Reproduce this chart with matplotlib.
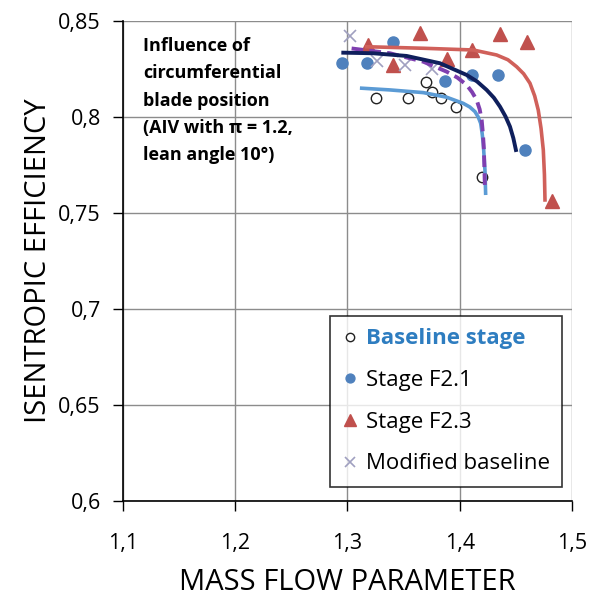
import matplotlib.pyplot as plt
from matplotlib.ticker import FuncFormatter

plt.rcParams['font.family'] = ['Open Sans', 'DejaVu Sans']

# measured points
base_x = [1.325, 1.354, 1.370, 1.375, 1.383, 1.397, 1.420]
base_y = [0.810, 0.810, 0.818, 0.813, 0.810, 0.805, 0.769]

f21_x = [1.295, 1.317, 1.341, 1.387, 1.411, 1.434, 1.458]
f21_y = [0.828, 0.828, 0.839, 0.819, 0.822, 0.822, 0.783]

f23_x = [1.318, 1.341, 1.365, 1.389, 1.411, 1.436, 1.460, 1.482]
f23_y = [0.8375, 0.827, 0.844, 0.830, 0.835, 0.843, 0.839, 0.756]

mod_x = [1.302, 1.326, 1.351, 1.375]
mod_y = [0.842, 0.829, 0.827, 0.825]

# fitted characteristics
base_fit_x = [1.3127, 1.3379, 1.3676, 1.3884, 1.4032, 1.4090, 1.4136, 1.4165,
              1.4187, 1.4200, 1.4210, 1.4225, 1.4231]
base_fit_y = [0.8150, 0.8141, 0.8127, 0.8103, 0.8071, 0.8052, 0.8028, 0.8000,
              0.7967, 0.7915, 0.7863, 0.7724, 0.7603]

f21_fit_x = [1.2963, 1.3230, 1.3527, 1.3824, 1.4062, 1.4155, 1.4240, 1.4305,
             1.4359, 1.4408, 1.4448, 1.4478, 1.4501]
f21_fit_y = [0.8335, 0.8332, 0.8318, 0.8280, 0.8219, 0.8185, 0.8141, 0.8100,
             0.8054, 0.8003, 0.7950, 0.7890, 0.7828]

f23_fit_x = [1.3171, 1.3676, 1.4121, 1.4329, 1.4430, 1.4507, 1.4570, 1.4626,
             1.4668, 1.4700, 1.4725, 1.4745, 1.4755, 1.4760]
f23_fit_y = [0.8366, 0.8358, 0.8349, 0.8323, 0.8298, 0.8262, 0.8225, 0.8176,
             0.8110, 0.8036, 0.7940, 0.7828, 0.7700, 0.7568]

mod_fit_x = [1.3037, 1.3379, 1.3676, 1.3884, 1.3980, 1.4062, 1.4110, 1.4151,
             1.4178, 1.4196, 1.4208, 1.4216, 1.4225]
mod_fit_y = [0.8357, 0.8332, 0.8288, 0.8236, 0.8205, 0.8167, 0.8130, 0.8089,
             0.8040, 0.7984, 0.7905, 0.7828, 0.7620]

x_ticks = [1.1, 1.2, 1.3, 1.4, 1.5]
y_ticks = [0.6, 0.65, 0.7, 0.75, 0.8, 0.85]

fig = plt.figure(figsize=(5.97, 6.0), dpi=100)
ax = fig.add_axes([0.206, 0.165, 0.752, 0.80])

ax.plot(base_x, base_y, 'o', ms=7.5, mfc='white', mec='#222222', mew=1.0,
        ls='none', label='Baseline stage', zorder=3)
ax.plot(f21_x, f21_y, 'o', ms=8, color='#4F81BD', ls='none',
        label='Stage F2.1', zorder=3)
ax.plot(f23_x, f23_y, '^', ms=10, color='#C0504D', ls='none',
        label='Stage F2.3', zorder=3)
ax.plot(mod_x, mod_y, 'x', ms=9, mew=1.2, color='#A0A0C0', ls='none',
        label='Modified baseline', zorder=3)

ax.plot(base_fit_x, base_fit_y, color='#5B9BD5', lw=2.6, zorder=4)
ax.plot(mod_fit_x, mod_fit_y, color='#7F3FB0', lw=2.8, ls=(0, (3, 1.6)), zorder=4)
ax.plot(f21_fit_x, f21_fit_y, color='#0F1F5C', lw=2.8, zorder=4)
ax.plot(f23_fit_x, f23_fit_y, color='#D0605A', lw=2.6, zorder=4)

ax.set_xlim(1.1, 1.5)
ax.set_ylim(0.6, 0.85)
ax.set_xticks(x_ticks)
ax.set_yticks(y_ticks)
comma = FuncFormatter(lambda v, p: f'{v:g}'.replace('.', ','))
ax.xaxis.set_major_formatter(comma)
ax.yaxis.set_major_formatter(comma)
ax.tick_params(direction='out', length=7, width=1, labelsize=15.5,
               colors='black')
ax.tick_params(axis='x', pad=16)
ax.tick_params(axis='y', pad=9)
ax.grid(True, color='#8C8C8C', lw=1)
ax.set_axisbelow(True)
for side in ['top', 'right']:
    ax.spines[side].set_visible(False)
for side in ['left', 'bottom']:
    ax.spines[side].set_color('black')
    ax.spines[side].set_linewidth(1.2)

ax.set_xlabel('MASS FLOW PARAMETER', fontsize=21, labelpad=10)
ax.set_ylabel('ISENTROPIC EFFICIENCY', fontsize=21, labelpad=4)

ax.text(1.118, 0.8415,
        'Influence of\ncircumferential\nblade position\n(AIV with π = 1.2,\nlean angle 10°)',
        fontsize=13, fontweight='bold', va='top', ha='left', linespacing=1.65)

leg = ax.legend(loc='lower right', bbox_to_anchor=(0.978, 0.03), fontsize=16,
                frameon=True, fancybox=False, edgecolor='black', markerscale=0.8,
                handlelength=0.7, handletextpad=0.35, borderpad=0.55,
                labelspacing=0.93, borderaxespad=0)
leg.get_frame().set_linewidth(1.2)
first = leg.get_texts()[0]
first.set_color('#2E7DC0')
first.set_fontweight('bold')

fig.savefig('out.png', dpi=100)
